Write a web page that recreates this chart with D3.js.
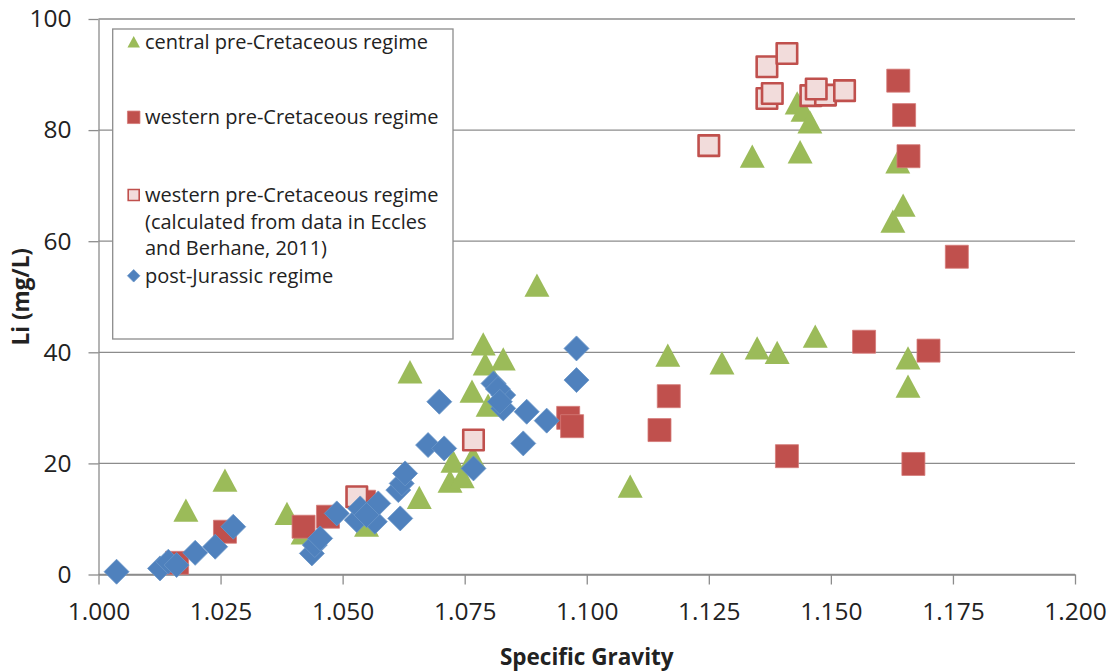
<!DOCTYPE html>
<html>
<head>
<meta charset="utf-8">
<script src="https://cdn.jsdelivr.net/npm/d3@7"></script>
<style>
  html, body { margin: 0; padding: 0; background: #ffffff; }
  svg { display: block; }
  text { font-family: "Open Sans", "Noto Sans", sans-serif; fill: #222222; }
</style>
</head>
<body>
<svg id="chart" width="1112" height="671"></svg>
<script>
// Specific gravity (x) against lithium concentration in mg/L (y)
const centralPre = [
  [1.0179, 11.6], [1.0259, 17.0], [1.0386, 11.0], [1.0419, 7.5], [1.0549, 8.9],
  [1.0638, 36.5], [1.0657, 13.9], [1.0726, 20.4], [1.0720, 16.8], [1.0745, 17.6],
  [1.0767, 21.2], [1.0765, 33.0], [1.0788, 41.5], [1.0792, 37.9], [1.0829, 38.8],
  [1.0798, 30.5], [1.0898, 52.1], [1.1089, 15.9], [1.1166, 39.5], [1.1277, 38.1],
  [1.1349, 40.8], [1.1390, 40.0], [1.1468, 42.9], [1.1658, 39.0], [1.1658, 33.9],
  [1.1339, 75.3], [1.1437, 76.1], [1.1431, 84.9], [1.1443, 83.6], [1.1457, 81.5],
  [1.1637, 74.3], [1.1648, 66.5], [1.1627, 63.6]
];
const westernPre = [
  [1.0161, 2.1], [1.0259, 7.7], [1.0420, 8.6], [1.0470, 10.4], [1.0544, 13.1],
  [1.0962, 28.2], [1.0970, 26.7], [1.1149, 26.0], [1.1168, 32.1], [1.1410, 21.3],
  [1.1568, 41.9], [1.1700, 40.3], [1.1669, 19.9], [1.1758, 57.2], [1.1638, 88.9],
  [1.1650, 82.7], [1.1659, 75.3]
];
const westernEccles = [
  [1.1250, 77.2], [1.1369, 91.4], [1.1410, 93.8], [1.1369, 85.7], [1.1380, 86.6],
  [1.1459, 86.2], [1.1489, 86.3], [1.1470, 87.4], [1.1528, 87.1], [1.0768, 24.2],
  [1.0529, 14.0]
];
const postJurassic = [
  [1.0037, 0.5], [1.0126, 1.1], [1.0143, 2.3], [1.0160, 1.7], [1.0198, 3.9],
  [1.0239, 5.0], [1.0276, 8.6], [1.0437, 3.8], [1.0443, 5.3], [1.0454, 6.5],
  [1.0488, 11.0], [1.0529, 9.8], [1.0536, 11.9], [1.0566, 9.5], [1.0573, 12.8],
  [1.0549, 10.7], [1.0618, 10.1], [1.0614, 15.2], [1.0621, 16.4], [1.0628, 18.2],
  [1.0698, 31.1], [1.0675, 23.3], [1.0708, 22.7], [1.0768, 19.1], [1.0809, 34.4],
  [1.0829, 32.3], [1.0829, 29.9], [1.0877, 29.3], [1.0918, 27.7], [1.0870, 23.6],
  [1.0979, 40.7], [1.0979, 35.0], [1.0818, 33.4], [1.0822, 31.1]
];

const xTicks = [1.000, 1.025, 1.050, 1.075, 1.100, 1.125, 1.150, 1.175, 1.200];
const yTicks = [0, 20, 40, 60, 80, 100];

const seriesNames = [
  ["central pre-Cretaceous regime"],
  ["western pre-Cretaceous regime"],
  ["western pre-Cretaceous regime", "(calculated from data in Eccles", "and Berhane, 2011)"],
  ["post-Jurassic regime"]
];

const xTitle = "Specific Gravity";
const yTitle = "Li (mg/L)";

// ---- layout ----
const plot = { left: 98.5, right: 1075, top: 19, bottom: 574.5 };
const gridColor = "#8c8c8c";

const svg = d3.select("#chart");

const x = d3.scaleLinear().domain([1.0, 1.2]).range([plot.left, plot.right]);
const y = d3.scaleLinear().domain([0, 100]).range([plot.bottom, plot.top]);

// Marker shapes, drawn around a centre point
function trianglePath(s) {
  const w = s * 1.04, h = s * 0.97;
  return `M0,${-h / 2}L${w / 2},${h / 2}L${-w / 2},${h / 2}Z`;
}
function squarePath(s) {
  return `M${-s / 2},${-s / 2}h${s}v${s}h${-s}Z`;
}
function diamondPath(s) {
  const r = s / 2;
  return `M0,${-r}L${r},0L0,${r}L${-r},0Z`;
}

const styles = [
  { data: centralPre, path: trianglePath, size: 24, fill: "#9BBB59", stroke: "none", sw: 0 },
  { data: westernPre, path: squarePath, size: 23, fill: "#C0504D", stroke: "#d47a77", sw: 0.8 },
  { data: westernEccles, path: squarePath, size: 20.5, fill: "#F2DCDB", stroke: "#C0504D", sw: 2.6 },
  { data: postJurassic, path: diamondPath, size: 25, fill: "#4F81BD", stroke: "#6a95c8", sw: 0.8 }
];

// ---- gridlines ----
svg.append("g")
  .selectAll("line")
  .data(yTicks)
  .join("line")
  .attr("x1", plot.left)
  .attr("x2", plot.right)
  .attr("y1", d => y(d))
  .attr("y2", d => y(d))
  .attr("stroke", gridColor)
  .attr("stroke-width", 1.3);

// ---- axes ----
const xAxis = d3.axisBottom(x)
  .tickValues(xTicks)
  .tickFormat(d3.format(".3f"))
  .tickSizeInner(10)
  .tickSizeOuter(0)
  .tickPadding(18);

const yAxis = d3.axisLeft(y)
  .tickValues(yTicks)
  .tickFormat(d3.format("d"))
  .tickSizeInner(10)
  .tickSizeOuter(0)
  .tickPadding(17);

const gx = svg.append("g")
  .attr("transform", `translate(0,${plot.bottom})`)
  .call(xAxis);
const gy = svg.append("g")
  .attr("transform", `translate(${plot.left},0)`)
  .call(yAxis);

[gx, gy].forEach(g => {
  g.select(".domain").attr("stroke", gridColor).attr("stroke-width", 1.3);
  g.selectAll(".tick line").attr("stroke", gridColor).attr("stroke-width", 1.3);
  g.selectAll(".tick text")
    .attr("fill", "#222222")
    .style("font-family", '"Open Sans", "Noto Sans", sans-serif')
    .style("font-size", "24.5px");
});

// ---- axis titles ----
svg.append("text")
  .attr("x", (plot.left + plot.right) / 2)
  .attr("y", 665)
  .attr("text-anchor", "middle")
  .style("font-size", "22.5px")
  .style("font-weight", "bold")
  .attr("fill", "#111")
  .text(xTitle);

svg.append("text")
  .attr("transform", `translate(29,${(plot.top + plot.bottom) / 2}) rotate(-90)`)
  .attr("text-anchor", "middle")
  .style("font-size", "22.5px")
  .style("font-weight", "bold")
  .attr("fill", "#111")
  .text(yTitle);

// ---- data markers ----
const markers = svg.append("g");
styles.forEach(st => {
  markers.append("g")
    .selectAll("path")
    .data(st.data)
    .join("path")
    .attr("transform", d => `translate(${x(d[0])},${y(d[1])})`)
    .attr("d", st.path(st.size))
    .attr("fill", st.fill)
    .attr("stroke", st.stroke)
    .attr("stroke-width", st.sw)
    .attr("stroke-linejoin", "round");
});

// ---- legend ----
const legend = svg.append("g");
legend.append("rect")
  .attr("x", 112.7)
  .attr("y", 29)
  .attr("width", 340.3)
  .attr("height", 310)
  .attr("fill", "#ffffff")
  .attr("stroke", gridColor)
  .attr("stroke-width", 1.3);

const legendRows = [41.7, 117.3, 195, 275.8];
const legendMarkerSizes = [12, 12.5, 11, 12.5];
const lineGap = 26.5;

styles.forEach((st, i) => {
  const cy = legendRows[i];
  legend.append("path")
    .attr("transform", `translate(133.7,${cy})`)
    .attr("d", st.path(legendMarkerSizes[i]))
    .attr("fill", st.fill)
    .attr("stroke", st.stroke === "none" ? "none" : st.stroke)
    .attr("stroke-width", i === 2 ? 1.6 : st.sw);

  const t = legend.append("text")
    .attr("x", 145)
    .attr("y", cy + 7)
    .style("font-size", "20px")
    .attr("fill", "#222222");
  seriesNames[i].forEach((line, j) => {
    t.append("tspan")
      .attr("x", 145)
      .attr("dy", j === 0 ? 0 : lineGap)
      .text(line);
  });
});
</script>
</body>
</html>
